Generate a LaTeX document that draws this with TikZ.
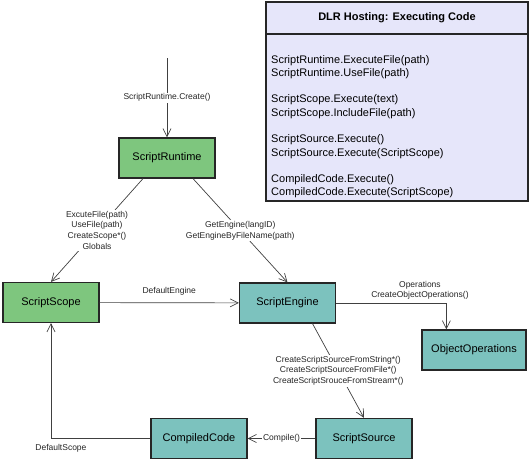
\documentclass[tikz,border=0pt]{standalone}
\usepackage{fontspec}
\setmainfont{Liberation Sans}
\usetikzlibrary{arrows.meta}
\definecolor{rtgreen}{RGB}{126,198,126}
\definecolor{engteal}{RGB}{124,194,190}
\definecolor{legfill}{RGB}{230,230,250}

\begin{document}
\begin{tikzpicture}[x=1pt,y=-1pt,
	box/.style={rectangle,draw=black!85,line width=1.2pt,minimum width=96pt,minimum height=40pt,font=\fontsize{11}{13}\selectfont},
	rt/.style={box,fill=rtgreen},
	eng/.style={box,fill=engteal},
	call/.style={draw=black!75,line width=0.7pt,-{Straight Barb[length=8pt,width=8pt]}},
	lbl/.style={fill=white,inner sep=1pt,align=center,font=\fontsize{8.5}{10.8}\selectfont,text=black!85},
	legbox/.style={rectangle,draw=black!85,line width=1.3pt,fill=legfill,minimum width=262pt,outer sep=0pt}
	]
	\useasboundingbox (0,0) rectangle (530,463);

	% legend
	\node[legbox,minimum height=32pt] (leghead) at (397,18) {\fontsize{11}{13}\selectfont\bfseries DLR Hosting: Executing Code};
	\node[legbox,minimum height=167pt,anchor=north] (legbody) at (leghead.south) {};
	\node[anchor=north west,inner sep=0pt,align=left,font=\fontsize{11}{13.7}\selectfont] (legtext) at (271,55)
		{ScriptRuntime.ExecuteFile(path)\\ScriptRuntime.UseFile(path)\\[12.3pt]
		ScriptScope.Execute(text)\\ScriptScope.IncludeFile(path)\\[12.3pt]
		ScriptSource.Execute()\\ScriptSource.Execute(ScriptScope)\\[12.3pt]
		CompiledCode.Execute()\\CompiledCode.Execute(ScriptScope)};

	% classes
	\coordinate (start) at (167,58);
	\node[rt] (runtime) at (167,158) {ScriptRuntime};
	\node[rt] (scope) at (51,302.5) {ScriptScope};
	\node[eng] (engine) at (287.5,303) {ScriptEngine};
	\node[eng,minimum width=104pt] (objops) at (474,350) {ObjectOperations};
	\node[eng] (source) at (364,438.5) {ScriptSource};
	\node[eng] (compiled) at (199,438.5) {CompiledCode};

	% calls
	\draw[call] (start) -- node[lbl]{ScriptRuntime.Create()} (runtime);
	\draw[call] ([xshift=-24pt]runtime.south) -- node[lbl]{ExcuteFile(path)\\UseFile(path)\\CreateScope*()\\Globals} (scope.north);
	\draw[call] ([xshift=26pt]runtime.south) -- node[lbl]{GetEngine(langID)\\GetEngineByFileName(path)} (engine.north);
	\draw[call] (scope) -- node[lbl,above=6pt]{DefaultEngine} (engine);
	\draw[call] (engine) -| node[lbl,pos=0.38,above=2pt]{Operations\\CreateObjectOperations()} ([xshift=25pt]objops.north west);
	\draw[call] ([xshift=25pt]engine.south) -- node[lbl]{CreateScriptSourceFromString*()\\CreateScriptSourceFromFile*()\\CreateScriptSrouceFromStream*()} (source.north);
	\draw[call] (source) -- node[lbl]{Compile()} (compiled);
	\draw[call] (compiled) -| node[lbl,pos=0.45,below=4pt]{DefaultScope} (scope);
\end{tikzpicture}
\end{document}
